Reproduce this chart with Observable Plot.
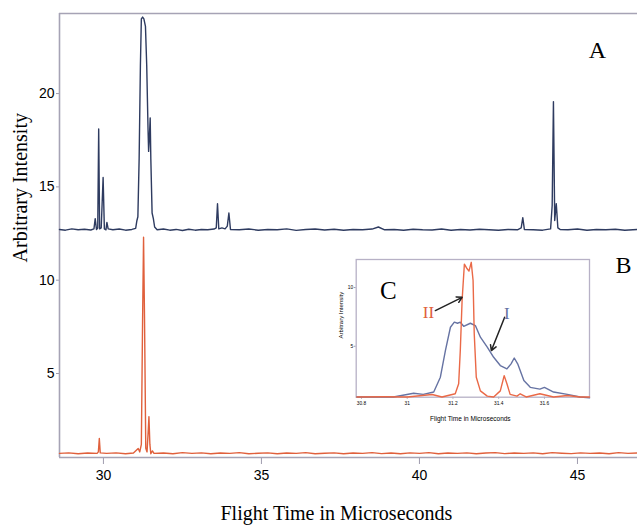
<!DOCTYPE html>
<html><head><meta charset="utf-8">
<script src="https://cdn.jsdelivr.net/npm/d3@7"></script>
<script src="https://cdn.jsdelivr.net/npm/@observablehq/plot@0.6"></script>
<style>
body{margin:0;background:#fff;}
#wrap{position:relative;width:637px;height:525px;overflow:hidden;}
#inset{position:absolute;left:330px;top:255px;}
svg g[aria-label$="tick"] path{stroke:#9f9cae;}
</style></head><body><div id="wrap"><div id="main"></div><div id="inset"></div></div>
<script>
// Spectrum A (blue, offset) — main panel
const blueTime = [28.61,28.8,29.0,29.2,29.4,29.6,29.70,29.74,29.78,29.82,29.85,29.88,29.93,29.99,30.03,30.08,30.11,30.15,30.3,30.5,30.7,30.9,31.02,31.06,31.09,31.13,31.17,31.20,31.24,31.28,31.33,31.37,31.41,31.43,31.45,31.48,31.50,31.54,31.58,31.62,31.7,31.9,32.1,32.3,32.5,32.7,32.9,33.1,33.3,33.5,33.57,33.61,33.65,33.75,33.85,33.92,33.97,34.02,34.3,34.6,34.9,35.2,35.5,35.8,36.1,36.4,36.7,37.0,37.3,37.6,37.9,38.2,38.5,38.7,38.9,39.2,39.5,39.8,40.1,40.4,40.7,41.0,41.3,41.6,41.9,42.2,42.5,42.8,43.1,43.22,43.27,43.32,43.6,43.9,44.15,44.2,44.24,44.28,44.33,44.38,44.45,44.7,45.0,45.3,45.6,45.9,46.2,46.5,46.9];
const blueIntensity = [12.72,12.68,12.75,12.70,12.73,12.69,12.75,13.3,12.72,12.8,18.1,12.75,12.8,15.5,12.75,12.7,13.1,12.75,12.7,12.74,12.68,12.72,12.78,13.2,13.4,16.5,21.5,24.0,24.1,24.0,23.6,21.5,18.2,16.9,17.5,18.7,16.5,13.6,13.3,12.85,12.7,12.74,12.68,12.72,12.66,12.73,12.68,12.72,12.7,12.74,12.8,14.1,12.75,12.8,12.75,12.9,13.6,12.72,12.7,12.74,12.68,12.72,12.7,12.75,12.67,12.72,12.74,12.69,12.73,12.68,12.72,12.7,12.74,12.85,12.7,12.72,12.68,12.73,12.7,12.69,12.74,12.68,12.72,12.69,12.73,12.7,12.68,12.72,12.7,12.8,13.35,12.72,12.7,12.68,12.75,14.0,19.57,13.2,14.1,12.8,12.72,12.7,12.74,12.68,12.72,12.7,12.73,12.68,12.72];
// Spectrum B (red) — main panel
const redTime = [28.61,28.9,29.2,29.5,29.8,29.84,29.87,29.9,30.1,30.4,30.7,30.95,31.05,31.1,31.15,31.2,31.24,31.27,31.3,31.34,31.38,31.42,31.44,31.47,31.5,31.55,31.6,31.9,32.2,32.5,32.8,33.1,33.4,33.7,34.0,34.3,34.6,34.9,35.2,35.5,35.8,36.1,36.4,36.7,37.0,37.3,37.6,37.9,38.2,38.5,38.8,39.1,39.4,39.7,40.0,40.3,40.6,40.9,41.2,41.5,41.8,42.1,42.4,42.7,43.0,43.3,43.6,43.9,44.2,44.5,44.8,45.1,45.4,45.7,46.0,46.3,46.6,46.9];
const redIntensity = [0.72,0.75,0.7,0.74,0.72,0.8,1.52,0.75,0.72,0.75,0.7,0.74,0.9,0.98,0.8,1.2,8.0,12.3,8.0,1.0,0.8,2.0,2.69,1.2,0.7,0.85,0.72,0.74,0.7,0.76,0.72,0.75,0.7,0.74,0.72,0.76,0.7,0.73,0.75,0.7,0.74,0.72,0.76,0.7,0.73,0.75,0.7,0.74,0.72,0.76,0.71,0.74,0.7,0.75,0.72,0.76,0.7,0.74,0.72,0.75,0.7,0.74,0.76,0.71,0.74,0.72,0.75,0.7,0.76,0.73,0.71,0.75,0.72,0.74,0.7,0.76,0.72,0.74];
// Inset C — curve I (blue) and curve II (red)
const insetITime = [30.78,30.80,30.94,31.028,31.07,31.116,31.145,31.167,31.189,31.206,31.22,31.232,31.247,31.276,31.298,31.32,31.35,31.378,31.407,31.436,31.454,31.468,31.483,31.51,31.538,31.58,31.60,31.64,31.70,31.756,31.797];
const insetIIntensity = [0.68,0.68,0.68,1.0,0.9,1.1,2.36,4.63,6.62,7.05,6.96,7.05,6.7,6.96,6.76,5.77,4.92,4.06,3.36,3.07,3.5,4.0,3.5,2.08,1.5,1.35,1.5,1.1,0.9,0.68,0.6];
const insetIITime = [30.78,30.9,31.0,31.109,31.152,31.21,31.225,31.232,31.24,31.25,31.262,31.27,31.28,31.288,31.293,31.302,31.32,31.35,31.378,31.407,31.424,31.436,31.45,31.48,31.494,31.52,31.58,31.64,31.70,31.756,31.797];
const insetIIIntensity = [0.68,0.7,0.68,0.89,0.68,0.95,1.8,4.6,8.9,12.0,11.6,11.4,12.15,10.6,6.1,2.36,1.2,0.75,0.68,1.2,2.5,1.8,0.9,0.75,0.95,0.68,0.95,0.68,0.8,0.68,0.68];
// tick labels
const mainXTicks = [30,35,40,45];
const mainYTicks = [5,10,15,20];
const insetXTicks = [30.8,31,31.2,31.4,31.6];
const insetYTicks = [5,10];
// annotations (data units)
const panelLabels = ["A","B"];
const panelLabelX = [45.63,46.46];
const panelLabelY = [22.3,10.79];
const insetLabels = ["C","II","I"];
const insetLabelX = [30.918,31.093,31.436];
const insetLabelY = [9.74,7.9,7.81];
const arrowX1 = [31.123,31.426], arrowY1 = [8.04,7.47], arrowX2 = [31.24,31.368], arrowY2 = [9.17,4.63];

const blue = blueTime.map((t,i)=>({t, v: blueIntensity[i]}));
const red = redTime.map((t,i)=>({t, v: redIntensity[i]}));
const iI = insetITime.map((t,i)=>({t, v: insetIIntensity[i]}));
const iII = insetIITime.map((t,i)=>({t, v: insetIIIntensity[i]}));
const panels = panelLabels.map((s,i)=>({s, x: panelLabelX[i], y: panelLabelY[i]}));
const ilabels = insetLabels.map((s,i)=>({s, x: insetLabelX[i], y: insetLabelY[i]}));
const arrows = arrowX1.map((d,i)=>({x1: d, y1: arrowY1[i], x2: arrowX2[i], y2: arrowY2[i]}));

const axisGrey = "#a6a3b5";
const xDom = [28.61, 46.9], yDom = [0.5, 24.29];

const main = Plot.plot({
  width: 637, height: 525,
  marginLeft: 59, marginRight: 0, marginTop: 13, marginBottom: 68,
  style: {fontFamily: "'Liberation Sans', Arial, sans-serif", fontSize: "14px", background: "#fff", color: "#000"},
  x: {domain: xDom, ticks: mainXTicks, tickSize: 7, tickPadding: 6, label: null},
  y: {domain: yDom, ticks: mainYTicks, tickSize: 3, tickPadding: 2, label: null},
  marks: [
    Plot.ruleY([yDom[1]], {stroke: axisGrey, strokeWidth: 1.6}),
    Plot.ruleY([yDom[0]], {stroke: axisGrey, strokeWidth: 1.6}),
    Plot.ruleX([xDom[0]], {stroke: axisGrey, strokeWidth: 1.6}),
    Plot.line(red, {x: "t", y: "v", stroke: "#e0603c", strokeWidth: 1.4}),
    Plot.line(blue, {x: "t", y: "v", stroke: "#2e3b60", strokeWidth: 1.4}),
    Plot.text(panels, {x: "x", y: "y", text: "s", fontFamily: "'Liberation Serif', 'Times New Roman', serif", fontSize: 24, fill: "#000"}),
    Plot.text(["Arbitrary Intensity"], {frameAnchor: "left", y: () => 10.95, dx: -39, rotate: -90, text: d => d, fontFamily: "'Liberation Serif', 'Times New Roman', serif", fontSize: 20, fill: "#000"}),
    Plot.text(["Flight Time in Microseconds"], {frameAnchor: "bottom", x: () => 37.37, dy: 56, lineAnchor: "middle", text: d => d, fontFamily: "'Liberation Serif', 'Times New Roman', serif", fontSize: 20, fill: "#000"})
  ]
});
document.getElementById("main").appendChild(main);

const inset = Plot.plot({
  width: 262, height: 172,
  marginLeft: 25.7, marginRight: 3, marginTop: 4, marginBottom: 30.3,
  style: {fontFamily: "'Liberation Sans', Arial, sans-serif", fontSize: "4.8px", background: "#fff", color: "#000"},
  x: {domain: [30.777, 31.797], ticks: insetXTicks, tickFormat: d => String(d), tickSize: 2, tickPadding: 2, label: null},
  y: {domain: [0.66, 12.39], ticks: insetYTicks, tickFormat: d => String(d), tickSize: 2, tickPadding: 1, label: null},
  marks: [
    Plot.frame({stroke: "#b7b1c6", strokeWidth: 1.3}),
    Plot.line(iI, {x: "t", y: "v", stroke: "#6673a3", strokeWidth: 1.4}),
    Plot.line(iII, {x: "t", y: "v", stroke: "#ea6947", strokeWidth: 1.4}),
    Plot.arrow(arrows, {x1: "x1", y1: "y1", x2: "x2", y2: "y2", stroke: "#222", strokeWidth: 1.5, headLength: 6}),
    Plot.text(ilabels, {x: "x", y: "y", text: "s", fontFamily: "'Liberation Serif', 'Times New Roman', serif",
      fontSize: d => d.s === "C" ? 25 : 17,
      fill: d => d.s === "C" ? "#000" : d.s === "II" ? "#e0603c" : "#6673a3"}),
    Plot.text(["Arbitrary Intensity"], {frameAnchor: "left", y: () => 5.66, dx: -15, rotate: -90, text: d => d, fontSize: 6, fill: "#000"}),
    Plot.text(["Flight Time in Microseconds"], {frameAnchor: "bottom", x: () => 31.276, dy: 24, text: d => d, fontSize: 6.5, fill: "#000"})
  ]
});
document.getElementById("inset").appendChild(inset);
</script>
</body></html>
